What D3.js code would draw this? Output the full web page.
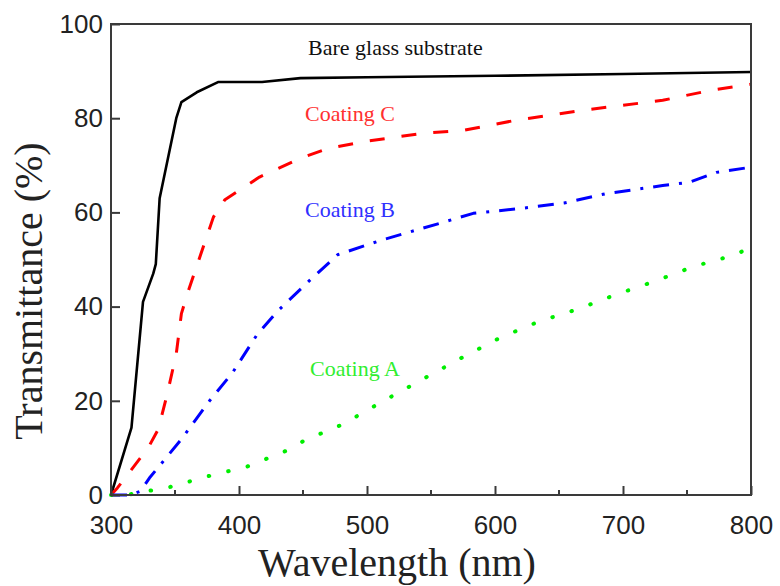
<!DOCTYPE html>
<html>
<head>
<meta charset="utf-8">
<script src="https://cdn.jsdelivr.net/npm/d3@7"></script>
<style>
  body { margin: 0; background: #fff; }
  svg { display: block; }
</style>
</head>
<body>
<div class="container"></div>
<script>
// Transmittance spectra of bare glass and coatings A/B/C

const bareWl = [300, 316, 325, 333, 335, 338, 351, 355, 367, 384, 418, 448, 500, 600, 700, 800];
const bareT  = [0, 14.3, 41, 47, 49, 63, 80, 83.4, 85.5, 87.7, 87.7, 88.5, 88.7, 89, 89.4, 89.8];

const cWl = [300, 305, 329, 337, 344, 351, 355, 360, 370, 380, 389, 416, 448, 470, 497, 544, 575, 617, 669, 731, 770, 800];
const cT  = [0, 1.5, 10, 14, 21.5, 30, 38.5, 43, 51, 59, 62.7, 67.5, 71.5, 73.6, 75, 76.8, 77.4, 79.6, 81.7, 83.8, 86, 87.2];

const bWl = [300, 315, 323, 330, 354, 377, 395, 414, 430, 455, 477, 510, 557, 583, 622, 654, 687, 731, 752, 773, 800];
const bT  = [0, 0, 0.8, 3.6, 11.5, 20, 26, 34, 39, 45.5, 51, 54, 57.7, 59.8, 60.9, 62, 64, 65.7, 66.4, 68.5, 69.6];

const aWl = [300, 312, 346, 376, 406, 437, 452, 481, 513, 543, 573, 604, 634, 664, 694, 724, 755, 785, 800];
const aT  = [0, 0, 1.7, 4, 6, 9.4, 11.7, 15, 20, 24.5, 29, 33.4, 36.8, 39.4, 42.5, 45.3, 48.5, 50.8, 52.5];

const xTicks = [300, 400, 500, 600, 700, 800];
const xMinor = [350, 450, 550, 650, 750];
const yTicks = [0, 20, 40, 60, 80, 100];

const series = [
  { name: "Bare glass substrate", wl: bareWl, t: bareT, color: "#000", text: "#111", dash: null, cap: "butt", w: 2.6, lx: 308, ly: 55 },
  { name: "Coating C", wl: cWl, t: cT, color: "#ff0000", text: "#ff3030", dash: "15 17", cap: "butt", w: 3, lx: 305, ly: 121 },
  { name: "Coating B", wl: bWl, t: bT, color: "#0000ff", text: "#3030ff", dash: "16 10 3 10", cap: "butt", w: 3, lx: 305, ly: 217 },
  { name: "Coating A", wl: aWl, t: aT, color: "#00ee00", text: "#30ee30", dash: "0.5 19.5", cap: "round", w: 4, lx: 310, ly: 376 }
];

const width = 780, height = 586;
const margin = { top: 24, right: 29, bottom: 91, left: 111 };

const svg = d3.select(".container")
  .append("svg")
  .attr("width", width)
  .attr("height", height);

const x = d3.scaleLinear().domain([300, 800]).range([margin.left, width - margin.right]);
const y = d3.scaleLinear().domain([0, 100]).range([height - margin.bottom, margin.top]);

const axisColor = "#3a3a3a";
const sans = "Liberation Sans, Arial, sans-serif";
const serif = "Liberation Serif, Times New Roman, serif";

// lines
const line = d3.line()
  .x(d => x(d[0]))
  .y(d => y(d[1]));

series.forEach(s => {
  const pts = s.wl.map((w, i) => [w, s.t[i]]);
  svg.append("path")
    .datum(pts)
    .attr("fill", "none")
    .attr("stroke", s.color)
    .attr("stroke-width", s.w)
    .attr("stroke-linecap", s.cap)
    .attr("stroke-linejoin", "round")
    .attr("stroke-dasharray", s.dash)
    .attr("d", line);

  svg.append("text")
    .attr("x", s.lx)
    .attr("y", s.ly)
    .attr("fill", s.text)
    .style("font", `22px ${serif}`)
    .text(s.name);
});

// frame
svg.append("rect")
  .attr("x", x(300))
  .attr("y", y(100))
  .attr("width", x(800) - x(300))
  .attr("height", y(0) - y(100))
  .attr("fill", "none")
  .attr("stroke", axisColor)
  .attr("stroke-width", 2);

// x axis
const xAxis = svg.append("g")
  .attr("transform", `translate(0,${y(0)})`)
  .call(d3.axisBottom(x).tickValues(xTicks).tickSize(-9).tickPadding(21).tickFormat(d3.format("d")));
xAxis.selectAll(".domain").remove();
xAxis.selectAll("line").attr("stroke", axisColor).attr("stroke-width", 2);
xAxis.selectAll("text").style("font", `26px ${sans}`).attr("fill", "#222");

svg.append("g")
  .selectAll("line")
  .data(xMinor)
  .join("line")
    .attr("x1", d => x(d))
    .attr("x2", d => x(d))
    .attr("y1", y(0))
    .attr("y2", y(0) - 5)
    .attr("stroke", axisColor)
    .attr("stroke-width", 2);

// y axis
const yAxis = svg.append("g")
  .attr("transform", `translate(${x(300)},0)`)
  .call(d3.axisLeft(y).tickValues(yTicks).tickSize(-9).tickPadding(8).tickFormat(d3.format("d")));
yAxis.selectAll(".domain").remove();
yAxis.selectAll("line").attr("stroke", axisColor).attr("stroke-width", 2);
yAxis.selectAll("text").style("font", `26px ${sans}`).attr("fill", "#222");

// axis titles (sit a little off the plot centre, as in the original figure)
svg.append("text")
  .attr("x", 397)
  .attr("y", 576)
  .attr("text-anchor", "middle")
  .attr("fill", "#222")
  .style("font", `40px ${serif}`)
  .text("Wavelength (nm)");

svg.append("text")
  .attr("transform", "translate(42,291) rotate(-90)")
  .attr("text-anchor", "middle")
  .attr("fill", "#222")
  .style("font", `40px ${serif}`)
  .text("Transmittance (%)");
</script>
</body>
</html>
